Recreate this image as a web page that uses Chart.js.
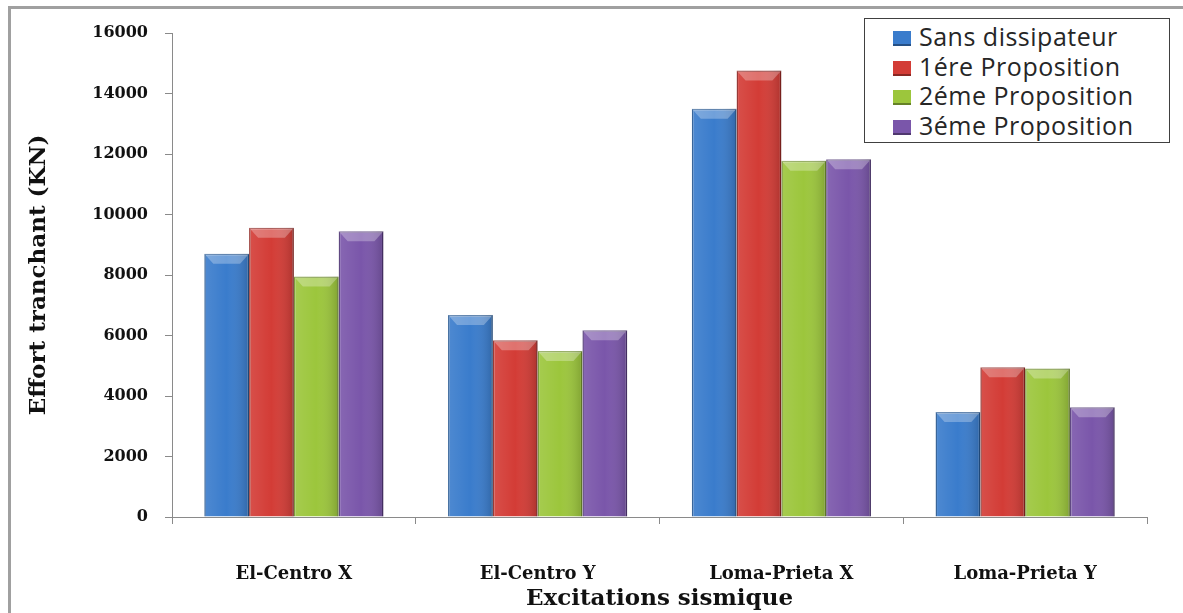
<!DOCTYPE html>
<html>
<head>
<meta charset="utf-8">
<script src="https://cdn.jsdelivr.net/npm/chart.js@4.4.0/dist/chart.umd.min.js"></script>
<style>
  body { margin: 0; background: #fff; }
  #wrap { position: relative; width: 1183px; height: 613px; overflow: hidden; }
  #frame { position: absolute; left: 8px; top: 6px; width: 1200px; height: 640px; border: 3px solid #a0a0a0; box-sizing: border-box; }
  canvas { position: absolute; left: 0; top: 0; }
  #legend { position: absolute; left: 864px; top: 18px; width: 306px; height: 125px; border: 1.5px solid #404040; box-sizing: border-box; background: #fff; padding: 3px 0 0 28px; font-family: "Open Sans", sans-serif; font-size: 25px; letter-spacing: 0.5px; color: #262626; }
  #legend div { height: 29.5px; line-height: 29.5px; white-space: nowrap; }
  #legend span.sw { display: inline-block; width: 18px; height: 15px; margin-right: 8px; vertical-align: 0px; border-bottom: 2px solid rgba(0,0,0,0.35); box-sizing: border-box; }
</style>
</head>
<body>
<div id="wrap">
  <div id="frame"></div>
  <canvas id="chart" width="1183" height="613"></canvas>
  <div id="legend"></div>
</div>
<script>
// data
const categories = ["El-Centro X", "El-Centro Y", "Loma-Prieta X", "Loma-Prieta Y"];
const seriesNames = ["Sans dissipateur", "1ére Proposition", "2éme Proposition", "3éme Proposition"];
const sansDissipateur = [8700, 6680, 13500, 3470];
const proposition1 = [9560, 5840, 14760, 4950];
const proposition2 = [7950, 5490, 11780, 4910];
const proposition3 = [9450, 6170, 11830, 3630];
const yTicks = [0, 2000, 4000, 6000, 8000, 10000, 12000, 14000, 16000];

const fills = ["#3a7ccc", "#d33c36", "#9cc63c", "#7a56aa"];
const edges = ["#24558f", "#8e2420", "#6f8f2a", "#4f3574"];

const allSeries = [sansDissipateur, proposition1, proposition2, proposition3];

// build legend
const legend = document.getElementById("legend");
seriesNames.forEach((name, i) => {
  const row = document.createElement("div");
  row.innerHTML = `<span class="sw" style="background:${fills[i]}"></span>${name}`;
  legend.appendChild(row);
});

// light shading on each bar, left to right
const shadeBars = {
  id: "shadeBars",
  afterDatasetsDraw(chart) {
    const ctx = chart.ctx;
    chart.data.datasets.forEach((ds, i) => {
      chart.getDatasetMeta(i).data.forEach(bar => {
        const left = bar.x - bar.width / 2;
        const g = ctx.createLinearGradient(left, 0, left + bar.width, 0);
        g.addColorStop(0, "rgba(255,255,255,0.10)");
        g.addColorStop(0.5, "rgba(255,255,255,0)");
        g.addColorStop(1, "rgba(0,0,0,0.18)");
        ctx.save();
        ctx.fillStyle = g;
        ctx.fillRect(left, bar.y, bar.width, bar.base - bar.y);
        // bevel on top
        const h = Math.min(10, bar.base - bar.y);
        ctx.fillStyle = "rgba(255,255,255,0.28)";
        ctx.beginPath();
        ctx.moveTo(left, bar.y);
        ctx.lineTo(left + bar.width, bar.y);
        ctx.lineTo(left + bar.width - 9, bar.y + h);
        ctx.lineTo(left + 9, bar.y + h);
        ctx.closePath();
        ctx.fill();
        ctx.restore();
      });
    });
  }
};

new Chart(document.getElementById("chart"), {
  type: "bar",
  data: {
    labels: categories,
    datasets: allSeries.map((data, i) => ({
      label: seriesNames[i],
      data: data,
      backgroundColor: fills[i],
      borderColor: edges[i],
      borderWidth: 1.5,
      categoryPercentage: 0.735,
      barPercentage: 1.0
    }))
  },
  options: {
    responsive: false,
    animation: false,
    layout: { padding: { top: 33, right: 36, bottom: 0, left: 0 } },
    plugins: {
      legend: { display: false },
      tooltip: { enabled: false }
    },
    scales: {
      x: {
        grid: { display: true, drawOnChartArea: false, tickLength: 7, color: "#8a8a8a" },
        border: { color: "#8a8a8a", width: 1 },
        ticks: { padding: 40, color: "#111", font: { family: "DejaVu Serif", weight: "bold", size: 18 } },
        title: {
          display: true,
          text: "Excitations sismique",
          color: "#111",
          padding: { top: 0, bottom: 0 },
          font: { family: "DejaVu Serif", weight: "bold", size: 23 }
        },
        afterFit(scale) { scale.height = 96; }
      },
      y: {
        min: 0,
        max: 16000,
        afterBuildTicks(scale) { scale.ticks = yTicks.map(v => ({ value: v })); },
        grid: { display: true, drawOnChartArea: false, tickLength: 7, color: "#8a8a8a" },
        border: { color: "#8a8a8a", width: 1 },
        ticks: {
          padding: 17,
          color: "#111",
          font: { family: "DejaVu Serif", weight: "bold", size: 16 },
          callback: v => String(v)
        },
        title: {
          display: true,
          text: "Effort tranchant (KN)",
          color: "#111",
          padding: { top: 25, bottom: 0 },
          font: { family: "DejaVu Serif", weight: "bold", size: 23 }
        },
        afterFit(scale) { scale.width = 172; }
      }
    }
  },
  plugins: [shadeBars]
});
</script>
</body>
</html>
